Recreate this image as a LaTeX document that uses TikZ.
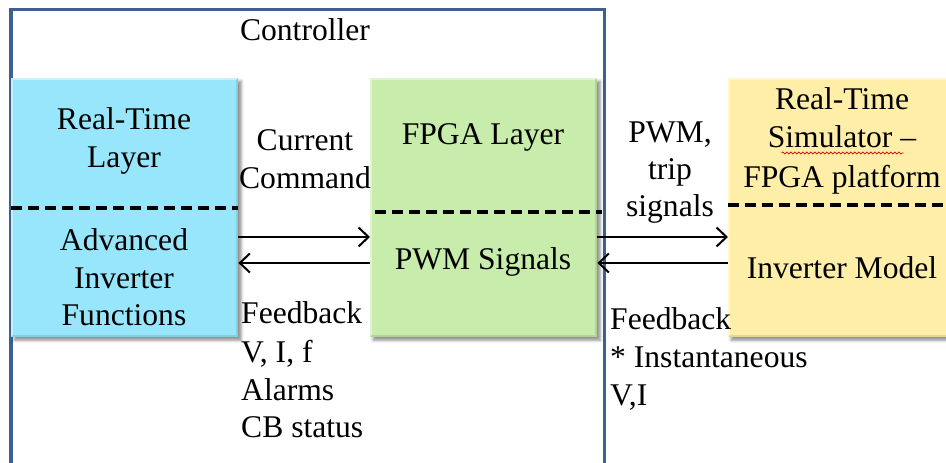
\documentclass[tikz,border=0pt]{standalone}
\usepackage{fontspec}
\setmainfont{Liberation Serif}
\newfontfamily\labelserif{Liberation Serif}
\usetikzlibrary{arrows.meta,shadows.blur,decorations.pathmorphing}
\definecolor{framecol}{RGB}{62,96,145}
\definecolor{rtblue}{RGB}{152,230,251}
\definecolor{fpgagreen}{RGB}{199,236,171}
\definecolor{simyellow}{RGB}{255,238,168}
\begin{document}
\begin{tikzpicture}[x=1pt,y=-1pt,
  layerbox/.style={rectangle, draw=none, inner sep=0pt, anchor=north west,
    blur shadow={shadow xshift=3pt, shadow yshift=-3pt, shadow blur radius=3pt, shadow opacity=45}},
  bevellight/.style={white, opacity=0.45, line width=2pt},
  beveldark/.style={black, opacity=0.10, line width=2pt},
  lbl/.style={font=\labelserif\fontsize{31.6}{38}\selectfont, inner sep=0pt, anchor=base},
  lbll/.style={lbl, anchor=base west},
  divider/.style={line width=3.5pt, dash pattern=on 11pt off 6pt},
  conn/.style={line width=2pt, -{Straight Barb[length=10pt,width=19pt,line width=2pt]}},
  frame/.style={draw=framecol, line width=3.2pt},
  squiggle/.style={red!85!black, line width=0.7pt, decorate,
    decoration={snake, amplitude=1.1pt, segment length=4pt}}]
\useasboundingbox (0,0) rectangle (946,463);

% controller enclosure (open at the bottom)
\draw[frame] (11,480) -- (11,9.5) -- (604.5,9.5) -- (604.5,480);
\node[lbl] (ctrl) at (305,41) {Controller};

% layer boxes
\node[layerbox, fill=rtblue, minimum width=227pt, minimum height=259pt] (rt) at (11,78) {};
\node[layerbox, fill=fpgagreen, minimum width=227pt, minimum height=259pt] (fpga) at (370,78) {};
\node[layerbox, fill=simyellow, minimum width=228pt, minimum height=259pt] (sim) at (728,78) {};

% soft bevel along the box edges
\foreach \b in {rt,fpga,sim}{
  \draw[bevellight] ([xshift=1pt,yshift=1pt]\b.south west) |- ([xshift=-1pt,yshift=-1pt]\b.north east);
  \draw[beveldark] ([xshift=1pt,yshift=1pt]\b.south west) -| ([xshift=-1pt,yshift=-1pt]\b.north east);
}

% dividers inside the boxes
\draw[divider] (rt.west |- 0,208) -- (rt.east |- 0,208);
\draw[divider] (375,212) -- (602,212);
\draw[divider] (sim.west |- 0,205) -- (946,205);

% real-time layer texts
\node[lbl] (rt1) at (124,129) {Real-Time};
\node[lbl] (rt2) at (124,167) {Layer};
\node[lbl] (rt3) at (124,250) {Advanced};
\node[lbl] (rt4) at (124,288) {Inverter};
\node[lbl] (rt5) at (124,325) {Functions};

% FPGA layer texts
\node[lbl] (fp1) at (483,144) {FPGA Layer};
\node[lbl] (fp2) at (483,269) {PWM Signals};

% simulator texts
\node[lbl] (sm1) at (842,109) {Real-Time};
\node[lbl] (sm2) at (842,147) {Simulator –};
\node[lbl] (sm3) at (842,187) {FPGA platform};
\node[lbl] (sm4) at (842,278) {Inverter Model};
\draw[squiggle] ([xshift=14pt,yshift=-6pt]sm2.base west) -- ++(122,0);

% connectors
\coordinate (up) at (0,237);
\coordinate (dn) at (0,263);
\draw[conn] (rt.east |- up) -- (fpga.west |- up);
\draw[conn] (fpga.west |- dn) -- (rt.east |- dn);
\draw[conn] (fpga.east |- up) -- (sim.west |- up);
\draw[conn] (sim.west |- dn) -- (fpga.east |- dn);

% connector labels
\node[lbl] (cc1) at (305,150) {Current};
\node[lbl] (cc2) at (305,188) {Command};
\node[lbl] (pw1) at (670,142) {PWM,};
\node[lbl] (pw2) at (670,179) {trip};
\node[lbl] (pw3) at (670,216) {signals};

\node[lbll] (fb1) at (241,323) {Feedback};
\node[lbll] (fb2) at (241,362) {V, I, f};
\node[lbll] (fb3) at (241,400) {Alarms};
\node[lbll] (fb4) at (241,437) {CB status};

\node[lbll] (fr1) at (610,329) {Feedback};
\node[lbll] (fr2) at (610,367) {* Instantaneous};
\node[lbll] (fr3) at (610,405) {V,I};
\end{tikzpicture}
\end{document}
